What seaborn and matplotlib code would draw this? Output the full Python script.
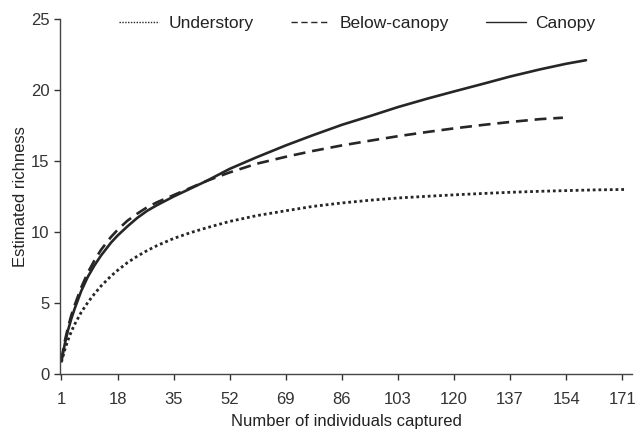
import numpy as np
import pandas as pd
import seaborn as sns
import matplotlib
matplotlib.use("Agg")
import matplotlib.pyplot as plt

# --- Data ---
under_x = [1, 2, 3, 4, 5, 7, 9, 11, 13, 16, 18, 21, 24, 27, 30, 35, 40, 45, 52, 60,
           69, 77, 86, 95, 103, 112, 120, 129, 137, 146, 154, 163, 172]
under_y = [0.85, 1.7, 2.4, 3.0, 3.5, 4.35, 5.05, 5.65, 6.2, 6.9, 7.3, 7.85, 8.3, 8.7, 9.05,
           9.55, 9.95, 10.3, 10.75, 11.15, 11.5, 11.8, 12.05, 12.25, 12.4, 12.52, 12.62,
           12.72, 12.8, 12.87, 12.92, 12.97, 13.0]

below_x = [1, 2, 3, 4, 5, 7, 9, 11, 13, 16, 18, 21, 24, 27, 30, 35, 40, 45, 52, 60,
           69, 77, 86, 95, 103, 112, 120, 129, 137, 146, 153]
below_y = [1.0, 2.3, 3.3, 4.15, 4.85, 6.1, 7.15, 8.0, 8.75, 9.65, 10.15, 10.8, 11.3, 11.75,
           12.1, 12.6, 13.1, 13.6, 14.2, 14.8, 15.3, 15.7, 16.1, 16.45, 16.75, 17.05,
           17.3, 17.55, 17.75, 17.95, 18.05]

canopy_x = [1, 2, 3, 4, 5, 7, 9, 11, 13, 16, 18, 21, 24, 27, 30, 35, 40, 45, 52, 60,
            69, 77, 86, 95, 103, 112, 120, 129, 137, 146, 154, 160]
canopy_y = [0.9, 2.1, 3.1, 3.9, 4.6, 5.85, 6.85, 7.65, 8.35, 9.25, 9.75, 10.4, 11.0, 11.5,
            11.9, 12.5, 13.05, 13.6, 14.45, 15.25, 16.1, 16.8, 17.55, 18.2, 18.8, 19.4,
            19.9, 20.45, 20.95, 21.45, 21.85, 22.1]

x_ticks = [1, 18, 35, 52, 69, 86, 103, 120, 137, 154, 171]
y_ticks = [0, 5, 10, 15, 20, 25]

sns.set_theme(style="ticks")
plt.rcParams["font.family"] = ["Liberation Sans", "DejaVu Sans"]

ink = "#262626"
fig = plt.figure(figsize=(6.36, 4.32), dpi=100)
ax = fig.add_axes([0.094, 0.134, 0.9, 0.822])

sns.lineplot(x=under_x, y=under_y, ax=ax, color=ink, lw=2.0,
             linestyle=(0, (1.0, 1.05)), label="Understory")
sns.lineplot(x=below_x, y=below_y, ax=ax, color=ink, lw=1.9,
             linestyle=(0, (4.5, 2.6)), label="Below-canopy")
sns.lineplot(x=canopy_x, y=canopy_y, ax=ax, color=ink, lw=1.9,
             linestyle="-", label="Canopy")

ax.set_xlim(0.5, 174)
ax.set_ylim(0, 25)
ax.set_xticks(x_ticks)
ax.set_yticks(y_ticks)
ax.tick_params(labelsize=12, colors="#333333", length=4, width=1)
ax.tick_params(axis="x", pad=9)
ax.set_xlabel("Number of individuals captured", fontsize=12, color="#222222", labelpad=5)
ax.set_ylabel("Estimated richness", fontsize=12, color="#222222", labelpad=2.2)
sns.despine(ax=ax)
for s in ("left", "bottom"):
    ax.spines[s].set_color("#444444")
    ax.spines[s].set_linewidth(1.0)

leg = ax.legend(loc="upper center", bbox_to_anchor=(0.52, 1.053), ncol=3,
                frameon=False, fontsize=12.5, handlelength=2.3,
                handletextpad=0.55, columnspacing=2.1)
for h in leg.get_lines():
    h.set_linewidth(1.0)
for t in leg.get_texts():
    t.set_color("#222222")

fig.savefig("out.png", dpi=100)
